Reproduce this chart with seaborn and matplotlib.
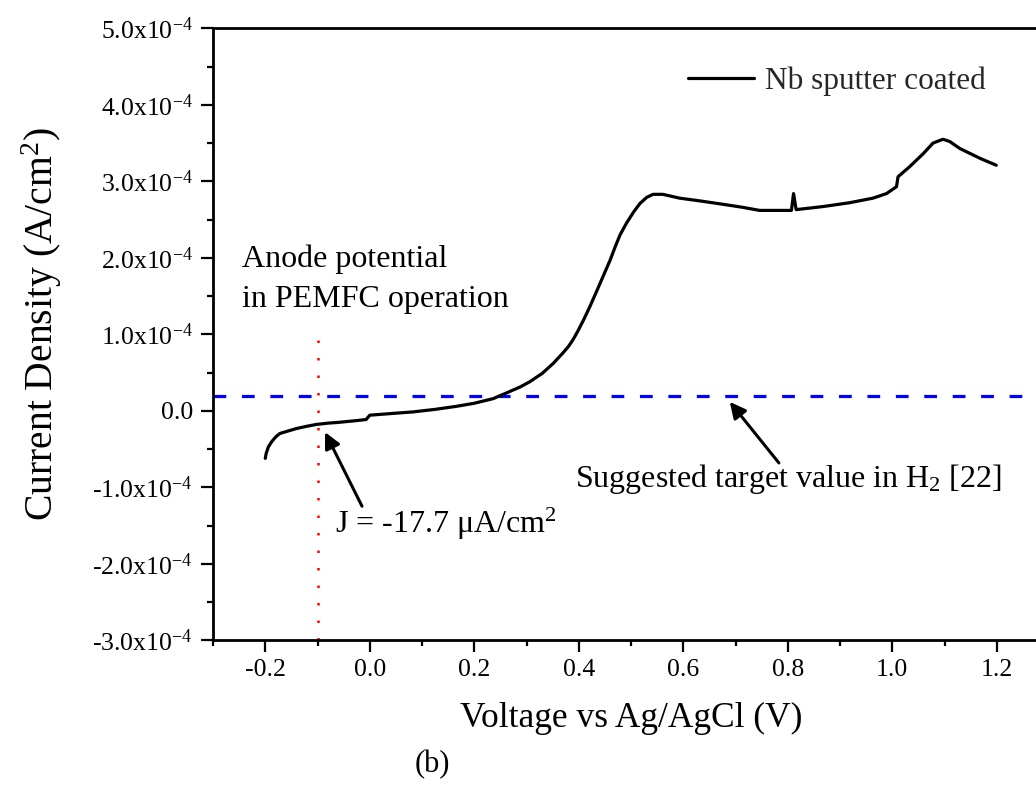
#!/usr/bin/env python3

import numpy as np
import pandas as pd
import matplotlib
matplotlib.use("Agg")
import matplotlib.pyplot as plt
import seaborn as sns

# Potentiodynamic curve (V vs Ag/AgCl, A/cm^2 x 1e-4)
voltage = [-0.200, -0.198, -0.194, -0.188, -0.180, -0.172, -0.155, -0.140, -0.120,
           -0.102, -0.080, -0.060, -0.030, -0.007, 0.000, 0.040, 0.083, 0.125,
           0.166, 0.200, 0.236, 0.260, 0.287, 0.306, 0.330, 0.351, 0.370, 0.380,
           0.389, 0.398, 0.410, 0.421, 0.434, 0.446, 0.460, 0.470, 0.479, 0.491,
           0.505, 0.517, 0.530, 0.542, 0.561, 0.593, 0.631, 0.676, 0.714, 0.746,
           0.807, 0.811, 0.816, 0.867, 0.918, 0.963, 0.989, 1.008, 1.011, 1.033,
           1.059, 1.078, 1.097, 1.110, 1.129, 1.168, 1.199]
current_e4 = [-0.62, -0.55, -0.47, -0.405, -0.34, -0.295, -0.26, -0.23, -0.20,
              -0.177, -0.16, -0.15, -0.13, -0.113, -0.056, -0.035, -0.013, 0.02,
              0.06, 0.10, 0.16, 0.23, 0.31, 0.38, 0.49, 0.62, 0.76, 0.84,
              0.93, 1.04, 1.20, 1.36, 1.56, 1.75, 1.97, 2.15, 2.30, 2.45,
              2.60, 2.71, 2.79, 2.83, 2.83, 2.78, 2.745, 2.70, 2.66, 2.62,
              2.62, 2.84, 2.63, 2.67, 2.72, 2.78, 2.84, 2.93, 3.06, 3.19,
              3.36, 3.50, 3.55, 3.52, 3.43, 3.30, 3.21]

target_value = 1.9e-5          # suggested target (blue dashed)
anode_potential = -0.1         # PEMFC anode potential (red dotted)
anode_line_top = 0.92e-4

y_ticks = [-3e-4, -2e-4, -1e-4, 0.0, 1e-4, 2e-4, 3e-4, 4e-4, 5e-4]
y_tick_labels = ["-3.0x10$^{-4}$", "-2.0x10$^{-4}$", "-1.0x10$^{-4}$", "0.0",
                 "1.0x10$^{-4}$", "2.0x10$^{-4}$", "3.0x10$^{-4}$", "4.0x10$^{-4}$",
                 "5.0x10$^{-4}$"]
x_ticks = [-0.2, 0.0, 0.2, 0.4, 0.6, 0.8, 1.0, 1.2]
x_tick_labels = ["-0.2", "0.0", "0.2", "0.4", "0.6", "0.8", "1.0", "1.2"]

df = pd.DataFrame({"V": voltage, "J": np.array(current_e4) * 1e-4})

sns.set_theme(style="ticks")
plt.rcParams["font.family"] = ["Liberation Serif", "DejaVu Serif"]
plt.rcParams["mathtext.fontset"] = "custom"
plt.rcParams["mathtext.rm"] = "Liberation Serif"
plt.rcParams["mathtext.it"] = "Liberation Serif:italic"
plt.rcParams["mathtext.default"] = "regular"

fig = plt.figure(figsize=(10.36, 8.01), dpi=100)
ax = fig.add_axes([0.2056, 0.2004, 0.807, 0.7643])

sns.lineplot(data=df, x="V", y="J", sort=False, color="black", lw=2.3,
             label="Nb sputter coated", ax=ax)

ax.axhline(target_value, color="#0000ff", lw=2.3, dashes=(4.0, 4.9), zorder=1)
ax.vlines(anode_potential, -3e-4, anode_line_top, color="red", lw=1.8,
          linestyles=[(0, (1, 6))], zorder=1)

ax.set_xlim(-0.3, 1.3)
ax.set_ylim(-3e-4, 5e-4)
ax.set_xticks(x_ticks, x_tick_labels)
ax.set_yticks(y_ticks, y_tick_labels)
ax.set_xticks(np.arange(-0.3, 1.31, 0.1), minor=True)
ax.set_yticks(np.arange(-3e-4, 5.01e-4, 0.5e-4), minor=True)
ax.tick_params(which="major", direction="out", length=8.5, width=1.6,
               labelsize=18.5, color="black", labelcolor="black")
ax.tick_params(axis="y", which="major", pad=6)
ax.tick_params(axis="x", which="major", pad=5)
ax.tick_params(which="minor", direction="out", length=4.3, width=1.6, color="black")

for side in ["left", "bottom", "top"]:
    ax.spines[side].set_linewidth(2.0)
    ax.spines[side].set_color("black")
ax.spines["right"].set_visible(False)

ax.set_xlabel("Voltage vs Ag/AgCl (V)", fontsize=25.5, color="black")
ax.set_ylabel("Current Density (A/cm$^2$)", fontsize=28.5, color="black")
ax.xaxis.set_label_coords(0.5, -0.1)
ax.yaxis.set_label_coords(-0.178, 0.517)

ax.legend(loc="upper left", bbox_to_anchor=(688 / 1036, 1 - 66 / 801),
          bbox_transform=fig.transFigure, frameon=False, fontsize=22.5,
          handlelength=2.1, handletextpad=0.35, borderpad=0, borderaxespad=0)

# annotations
ax.text(-0.2445, 1.878e-4, "Anode potential", fontsize=23, va="baseline", color="black")
ax.text(-0.2445, 1.356e-4, "in PEMFC operation", fontsize=23, va="baseline", color="black")
ax.text(-0.0665, -1.599e-4, "J = -17.7 μA/cm$^2$", fontsize=23, va="baseline", color="black")
ax.text(0.393, -0.997e-4, "Suggested target value in H$_2$ [22]", fontsize=23,
        va="baseline", color="black")

arrow = dict(arrowstyle="-|>", color="black", lw=2.2, mutation_scale=24, shrinkA=0, shrinkB=0)
ax.annotate("", xy=(-0.0856, -0.278e-4), xytext=(-0.0148, -1.246e-4), arrowprops=arrow)
ax.annotate("", xy=(0.689, 0.118e-4), xytext=(0.783, -0.68e-4), arrowprops=arrow)

fig.text(432 / 1036, 1 - 765 / 801, "(b)", fontsize=22, ha="center", va="center", color="black")

fig.savefig("out.png", dpi=100, facecolor="white")
